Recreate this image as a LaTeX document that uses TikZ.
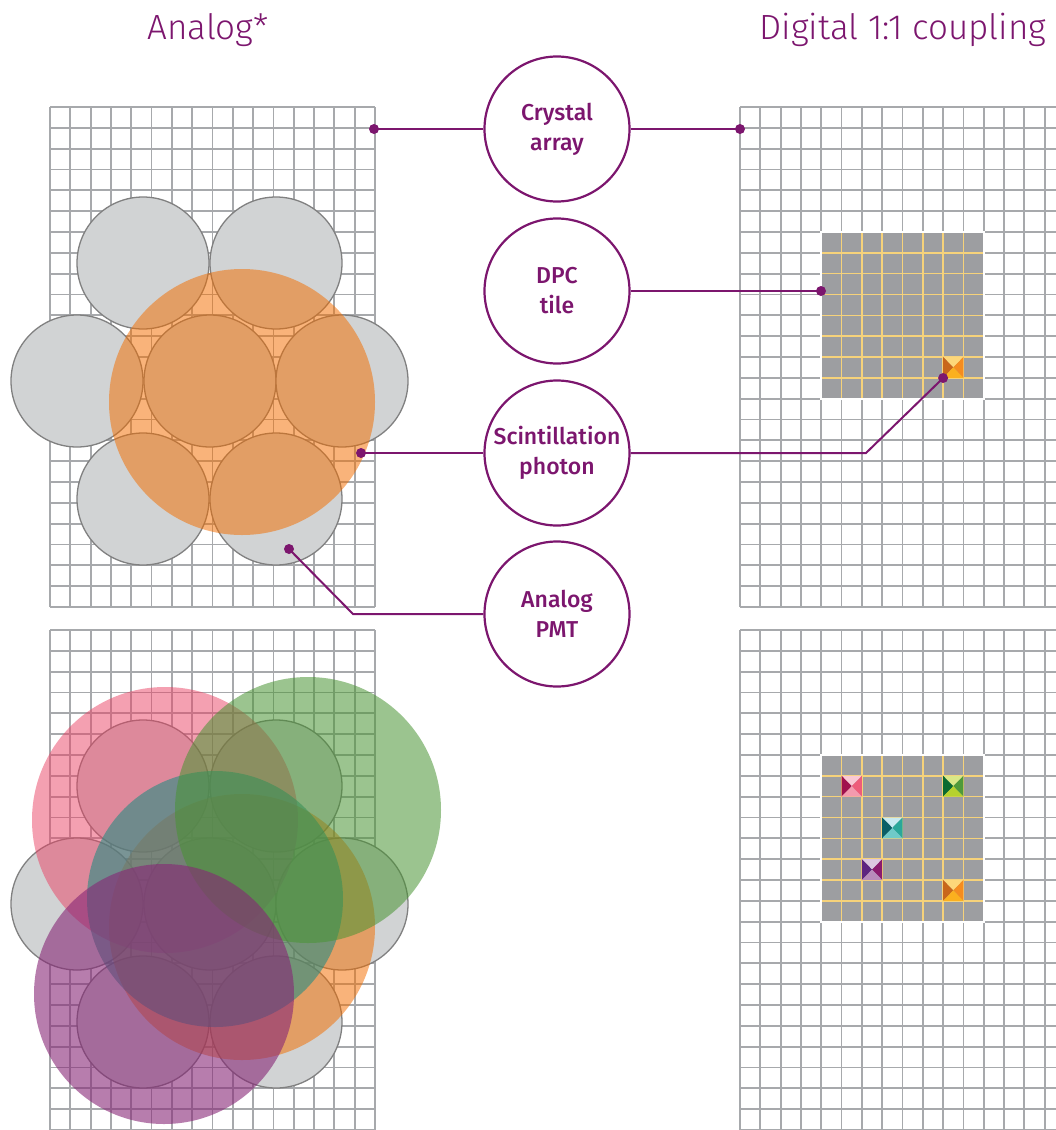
\documentclass[tikz,border=0pt]{standalone}
\usepackage{fontspec}
\setmainfont{Fira Sans}
\newfontfamily\titlefont{Fira Sans Light}
\newfontfamily\labelfont{Fira Sans Medium}
\usetikzlibrary{positioning}

\definecolor{linkpurple}{RGB}{124,22,110}
\definecolor{gridgray}{RGB}{167,169,172}
\definecolor{pmtgray}{RGB}{209,211,212}
\definecolor{pmtedge}{RGB}{128,128,128}
\definecolor{tilegray}{RGB}{157,158,161}
\definecolor{tileline}{RGB}{246,210,122}
\definecolor{spotorange}{RGB}{243,110,0}
\definecolor{spotpink}{RGB}{233,65,99}
\definecolor{spotgreen}{RGB}{73,148,51}
\definecolor{spotteal}{RGB}{40,140,130}
\definecolor{spotpurple}{RGB}{135,38,118}
% pixel facets: top, left, right, bottom
\definecolor{orT}{RGB}{253,215,122}\definecolor{orL}{RGB}{200,102,27}
\definecolor{orR}{RGB}{245,140,31}\definecolor{orB}{RGB}{251,176,31}
\definecolor{piT}{RGB}{249,200,212}\definecolor{piL}{RGB}{160,17,77}
\definecolor{piR}{RGB}{238,92,122}\definecolor{piB}{RGB}{244,154,174}
\definecolor{grT}{RGB}{217,232,135}\definecolor{grL}{RGB}{10,106,48}
\definecolor{grR}{RGB}{79,154,58}\definecolor{grB}{RGB}{182,210,46}
\definecolor{teT}{RGB}{200,234,241}\definecolor{teL}{RGB}{10,95,102}
\definecolor{teR}{RGB}{42,167,154}\definecolor{teB}{RGB}{111,202,200}
\definecolor{puT}{RGB}{220,199,224}\definecolor{puL}{RGB}{94,37,128}
\definecolor{puR}{RGB}{138,27,110}\definecolor{puB}{RGB}{184,139,187}

% crystal array: 16 x 24 cells, top-left corner given
\newcommand\crystalgrid[2]{%
  \foreach \i in {0,...,16} \draw[gridline] ({#1+\i*20.3125},#2) -- ++(0,500);
  \foreach \j in {0,...,24} \draw[gridline] (#1,{#2+\j*20.8333}) -- ++(325,0);
}
% DPC tile: 8 x 8 cells
\newcommand\dpctile[2]{%
  \fill[tilegray] (#1,#2) rectangle ++(162.5,166.67);
  \foreach \k in {1,...,7} {
    \draw[tilegrid] ({#1+\k*20.3125},#2) -- ++(0,166.67);
    \draw[tilegrid] (#1,{#2+\k*20.8333}) -- ++(162.5,0);
  }
  \draw[tileedge] (#1,#2) rectangle ++(162.5,166.67);
}
% fired pixel: x, y, colour prefix
\newcommand\hitpixel[3]{%
  \begin{scope}[shift={(#1,#2)}]
    \fill[#3T] (0,0) -- (20.3,0) -- (10.15,10.4) -- cycle;
    \fill[#3L] (0,0) -- (0,20.8) -- (10.15,10.4) -- cycle;
    \fill[#3R] (20.3,0) -- (20.3,20.8) -- (10.15,10.4) -- cycle;
    \fill[#3B] (0,20.8) -- (20.3,20.8) -- (10.15,10.4) -- cycle;
  \end{scope}
}

\begin{document}
\begin{tikzpicture}[x=1pt,y=-1pt,
  gridline/.style={draw=gridgray,line width=1.8pt},
  tilegrid/.style={draw=tileline,line width=1.6pt},
  tileedge/.style={draw=white,line width=2pt},
  pmt/.style={circle,draw=pmtedge,fill=pmtgray,line width=1.3pt,minimum size=132pt,inner sep=0pt},
  callout/.style={circle,draw=linkpurple,fill=white,line width=2.2pt,minimum size=145pt,inner sep=0pt,
    align=center,text=linkpurple,font=\labelfont\fontsize{23}{30}\selectfont},
  heading/.style={anchor=base,text=linkpurple,font=\titlefont\fontsize{35}{42}\selectfont},
  link/.style={draw=linkpurple,line width=2pt},
  dot/.style={fill=linkpurple}]
\useasboundingbox (0,0) rectangle (1056,1130);
\clip (0,0) rectangle (1056,1130);

\node[heading] (analog) at (208,39) {Analog*};
\node[heading] (digital) at (903,39) {Digital 1:1 coupling};

% analog, single event
\crystalgrid{50}{107}
\node[pmt] (pmtA) at (143,263) {};
\node[pmt] (pmtB) at (276,263) {};
\node[pmt] (pmtC) at (77,381) {};
\node[pmt] (pmtD) at (210,381) {};
\node[pmt] (pmtE) at (342,381) {};
\node[pmt] (pmtF) at (143,499) {};
\node[pmt] (pmtG) at (276,499) {};
\fill[spotorange,opacity=0.52] (242,402) circle (133pt);

% analog, several events
\crystalgrid{50}{630}
\node[pmt] (pmtH) at (143,786) {};
\node[pmt] (pmtI) at (276,786) {};
\node[pmt] (pmtJ) at (77,904) {};
\node[pmt] (pmtK) at (210,904) {};
\node[pmt] (pmtL) at (342,904) {};
\node[pmt] (pmtM) at (143,1022) {};
\node[pmt] (pmtN) at (276,1022) {};
\fill[spotorange,opacity=0.52] (242,927) circle (133pt);
\fill[spotpink,opacity=0.5] (165,820) circle (133pt);
\fill[spotteal,opacity=0.6] (215,899) circle (128pt);
\fill[spotgreen,opacity=0.55] (308,810) circle (133pt);
\fill[spotpurple,opacity=0.6] (164,994) circle (130pt);

% digital, single event
\crystalgrid{740}{107}
\dpctile{821.25}{232}
\hitpixel{943.1}{357}{or}

% digital, several events
\crystalgrid{740}{630}
\dpctile{821.25}{755}
\hitpixel{841.6}{775.8}{pi}
\hitpixel{943.1}{775.8}{gr}
\hitpixel{882.2}{817.5}{te}
\hitpixel{861.9}{859.2}{pu}
\hitpixel{943.1}{880}{or}

% callouts
\node[callout] (crystal) at (557,129) {Crystal\\array};
\node[callout] (tile) at (557,291) {DPC\\tile};
\node[callout] (photon) at (557,453) {Scintillation\\photon};
\node[callout] (tube) at (557,614) {Analog\\PMT};

\coordinate (arrayL) at (374,129);
\coordinate (arrayR) at (740,129);
\coordinate (tileR) at (821,291);
\coordinate (spotL) at (361,453);
\coordinate (bendR) at (866,453);
\coordinate (hitR) at (943.1,378);
\coordinate (bendL) at (353,614);
\coordinate (tubeL) at (289,549);

\draw[link] (crystal.west) -- (arrayL);
\draw[link] (crystal.east) -- (arrayR);
\draw[link] (tile.east) -- (tileR);
\draw[link] (photon.west) -- (spotL);
\draw[link] (photon.east) -- (bendR) -- (hitR);
\draw[link] (tube.west) -- (bendL) -- (tubeL);
\foreach \p in {arrayL,arrayR,tileR,spotL,hitR,tubeL}
  \fill[dot] (\p) circle (5pt);
\end{tikzpicture}
\end{document}
